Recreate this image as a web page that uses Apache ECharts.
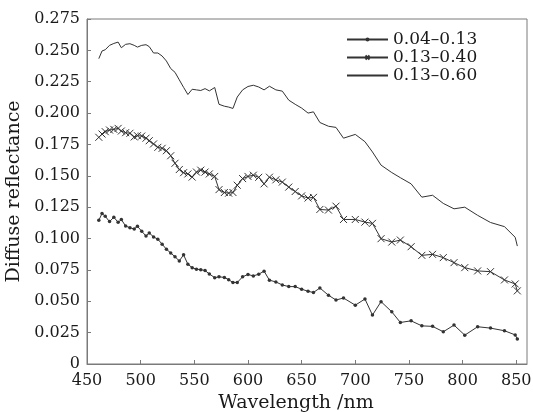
<!DOCTYPE html>
<html>
<head>
<meta charset="utf-8">
<script src="https://cdn.jsdelivr.net/npm/echarts@6/dist/echarts.min.js"></script>
<style>
  html, body { margin: 0; padding: 0; background: #fff; }
  #chart { width: 533px; height: 412px; }
</style>
</head>
<body>
<div id="chart"></div>
<script>
// wavelength sampling (nm), shared by all three curves
const wavelengths = [461, 464, 467, 471, 475, 479, 482, 486, 490, 494, 497, 501, 505, 508, 512, 516, 520, 524, 528, 532,
    536, 540, 544, 548, 552, 556, 560, 564, 569, 573, 578, 582, 586, 590, 595, 600, 605, 610, 615, 620,
    626, 632, 638, 644, 650, 656, 661, 667, 675, 682, 689, 700, 709, 716, 724, 734, 742, 752, 762, 772,
    782, 792, 802, 814, 826, 839, 849, 851];

const seriesNames = ['0.04\u20130.13', '0.13\u20130.40', '0.13\u20130.60'];

const refl_004_013 = [0.1145, 0.1200, 0.1177, 0.1135, 0.1170, 0.1129, 0.1151, 0.1100, 0.1086, 0.1076, 0.1098, 0.1058, 0.1020, 0.1045, 0.1013, 0.0995, 0.0955, 0.0915, 0.0885, 0.0855,
    0.0822, 0.0870, 0.0795, 0.0768, 0.0756, 0.0752, 0.0745, 0.0718, 0.0688, 0.0695, 0.0690, 0.0672, 0.0650, 0.0650, 0.0695, 0.0714, 0.0702, 0.0716, 0.0740, 0.0668,
    0.0654, 0.0630, 0.0617, 0.0617, 0.0596, 0.0580, 0.0570, 0.0606, 0.0548, 0.0510, 0.0526, 0.0469, 0.0518, 0.0390, 0.0497, 0.0416, 0.0331, 0.0344, 0.0304, 0.0300,
    0.0257, 0.0310, 0.0230, 0.0297, 0.0286, 0.0265, 0.0232, 0.0200];

const refl_013_040 = [0.1807, 0.1833, 0.1852, 0.1865, 0.1870, 0.1878, 0.1857, 0.1844, 0.1839, 0.1810, 0.1820, 0.1817, 0.1800, 0.1780, 0.1754, 0.1727, 0.1719, 0.1700, 0.1660, 0.1600,
    0.1550, 0.1525, 0.1515, 0.1490, 0.1530, 0.1545, 0.1530, 0.1515, 0.1495, 0.1390, 0.1367, 0.1362, 0.1367, 0.1425, 0.1478, 0.1495, 0.1505, 0.1488, 0.1436, 0.1489,
    0.1468, 0.1450, 0.1410, 0.1375, 0.1340, 0.1323, 0.1328, 0.1232, 0.1227, 0.1258, 0.1152, 0.1152, 0.1131, 0.1121, 0.0999, 0.0972, 0.0988, 0.0935, 0.0866, 0.0874,
    0.0848, 0.0808, 0.0768, 0.0742, 0.0736, 0.0670, 0.0638, 0.0583];

const refl_013_060 = [0.2434, 0.2495, 0.2505, 0.2540, 0.2555, 0.2566, 0.2521, 0.2548, 0.2553, 0.2540, 0.2526, 0.2540, 0.2545, 0.2530, 0.2479, 0.2479, 0.2455, 0.2415, 0.2355, 0.2325,
    0.2265, 0.2205, 0.2148, 0.2190, 0.2185, 0.2180, 0.2195, 0.2177, 0.2204, 0.2070, 0.2055, 0.2048, 0.2037, 0.2128, 0.2185, 0.2212, 0.2222, 0.2208, 0.2185, 0.2214,
    0.2185, 0.2175, 0.2103, 0.2070, 0.2040, 0.2000, 0.2010, 0.1925, 0.1895, 0.1886, 0.1800, 0.1830, 0.1772, 0.1690, 0.1585, 0.1526, 0.1485, 0.1436, 0.1330, 0.1345,
    0.1280, 0.1237, 0.1250, 0.1185, 0.1128, 0.1095, 0.1010, 0.0940];

const xTicks = [450, 500, 550, 600, 650, 700, 750, 800, 850];

const FONT = 'DejaVu Serif';
const INK = '#1a1a1a';
const FRAME = '#7a7a7a';
const LINE = '#333';

function pairs(ys) {
    return wavelengths.map((w, i) => [w, ys[i]]);
}

const chart = echarts.init(document.getElementById('chart'), null, { renderer: 'canvas' });

chart.setOption({
    animation: false,
    backgroundColor: '#fff',
    textStyle: { fontFamily: FONT, color: INK },
    grid: {
        left: 87, right: 6, top: 19, bottom: 48,
        show: true, borderColor: FRAME, borderWidth: 1,
        outerBoundsMode: 'none'
    },
    legend: {
        orient: 'vertical',
        left: 341, top: 26,
        itemWidth: 41, itemHeight: 5, itemGap: 1,
        data: [
            seriesNames[0],
            seriesNames[1],
            { name: seriesNames[2], itemStyle: { opacity: 0 } }
        ],
        textStyle: { fontFamily: FONT, fontSize: 17, color: INK, lineHeight: 17 }
    },
    xAxis: {
        type: 'value',
        min: 450, max: 860, interval: 50,
        name: 'Wavelength /nm',
        nameLocation: 'middle', nameGap: 26,
        nameTextStyle: { fontFamily: FONT, fontSize: 19, color: INK, padding: [0, 22, 0, 0] },
        axisLine: { show: true, lineStyle: { color: FRAME, width: 1 } },
        axisTick: { show: true, inside: true, length: 4, customValues: xTicks, lineStyle: { color: FRAME } },
        axisLabel: { customValues: xTicks, margin: 9, fontFamily: FONT, fontSize: 16, color: INK },
        splitLine: { show: false }
    },
    yAxis: {
        type: 'value',
        min: 0, max: 0.275, interval: 0.025,
        name: 'Diffuse reflectance',
        nameLocation: 'middle', nameGap: 62,
        nameTextStyle: { fontFamily: FONT, fontSize: 19, color: INK },
        axisLine: { show: true, lineStyle: { color: FRAME, width: 1 } },
        axisTick: { show: true, inside: true, length: 4, lineStyle: { color: FRAME } },
        axisLabel: {
            margin: 7, fontFamily: FONT, fontSize: 16, color: INK,
            formatter: v => (v === 0 ? '0' : v.toFixed(3))
        },
        splitLine: { show: false }
    },
    series: [
        {
            name: seriesNames[0], type: 'line',
            data: pairs(refl_004_013),
            symbol: 'circle', symbolSize: 3.5, showSymbol: true,
            itemStyle: { color: LINE },
            lineStyle: { color: LINE, width: 1 }
        },
        {
            name: seriesNames[1], type: 'line',
            data: pairs(refl_013_040),
            symbol: 'path://M0,0L10,10M10,0L0,10', symbolSize: 7, showSymbol: true,
            itemStyle: { color: 'rgba(0,0,0,0)', borderColor: LINE, borderWidth: 1 },
            lineStyle: { color: LINE, width: 1 }
        },
        {
            name: seriesNames[2], type: 'line',
            data: pairs(refl_013_060),
            symbol: 'none', showSymbol: false,
            itemStyle: { color: LINE },
            lineStyle: { color: LINE, width: 1 }
        }
    ]
});
</script>
</body>
</html>
